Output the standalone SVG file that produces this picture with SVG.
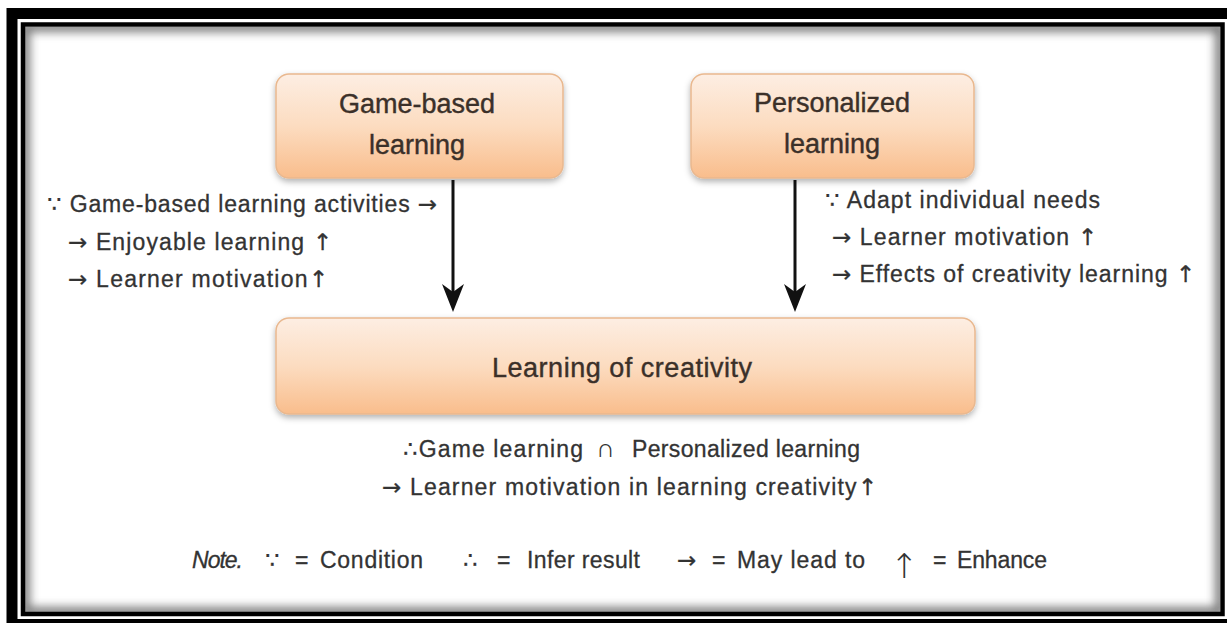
<svg xmlns="http://www.w3.org/2000/svg" width="1227" height="623" viewBox="0 0 1227 623">
<style>
.lbl{font-family:"Liberation Sans",Arial,sans-serif;font-size:27px;fill:#3b3029;stroke:#3b3029;stroke-width:0.4;text-anchor:middle}
.txt{font-family:"Liberation Sans","DejaVu Sans",Arial,sans-serif;font-size:23px;fill:#333;stroke:#333;stroke-width:0.3}
.sym{font-family:"DejaVu Sans",sans-serif}
.thin{stroke:none;font-family:"DejaVu Sans",sans-serif;font-weight:200}
.box{stroke:#e9b88f;stroke-width:1.5;filter:url(#shadow)}
.conn{stroke:#111;stroke-width:3;fill:none;marker-end:url(#ah)}
</style>
<defs>
<linearGradient id="peach" x1="0" y1="0" x2="0" y2="1">
<stop offset="0" stop-color="#fdeee3"/>
<stop offset="0.5" stop-color="#fcdcc0"/>
<stop offset="1" stop-color="#f9bd8c"/>
</linearGradient>
<filter id="shadow" x="-10%" y="-20%" width="120%" height="150%">
<feDropShadow dx="0" dy="3" stdDeviation="3" flood-color="#000" flood-opacity="0.3"/>
</filter>
<filter id="blur" x="-5%" y="-5%" width="110%" height="110%">
<feGaussianBlur stdDeviation="5"/>
</filter>
<clipPath id="inner"><rect x="25" y="27" width="1195" height="585"/></clipPath>
<marker id="ah" viewBox="0 0 28 22" refX="8" refY="11" markerWidth="28" markerHeight="22" orient="auto" markerUnits="userSpaceOnUse">
<path d="M0,0 L28,11 L0,22 L8,11 Z" fill="#111"/>
</marker>
</defs>

<g id="frame">
<rect x="0" y="0" width="1227" height="623" fill="#fff"/>
<rect x="12" y="13.5" width="1225" height="611" fill="none" stroke="#000" stroke-width="11"/>
<rect x="25" y="27" width="1195" height="585" fill="#fff"/>
<g clip-path="url(#inner)">
<rect x="25" y="27" width="1195" height="585" fill="none" stroke="#7a7a7a" stroke-width="10" filter="url(#blur)"/>
</g>
<rect x="23" y="24.5" width="1199.5" height="589.5" fill="none" stroke="#000" stroke-width="4.5"/>
</g>

<g id="connectors">
<line class="conn" x1="453" y1="180" x2="453" y2="292"/>
<line class="conn" x1="795" y1="180" x2="795" y2="292"/>
</g>

<g id="node-game">
<rect class="box" x="276" y="74" width="287" height="104" rx="13" fill="url(#peach)"/>
<text class="lbl" x="417" y="113">Game-based</text>
<text class="lbl" x="417" y="154">learning</text>
</g>

<g id="node-personalized">
<rect class="box" x="691" y="74" width="283" height="104" rx="13" fill="url(#peach)"/>
<text class="lbl" x="832" y="112">Personalized</text>
<text class="lbl" x="832" y="153">learning</text>
</g>

<g id="node-creativity">
<rect class="box" x="276" y="318" width="699" height="96" rx="13" fill="url(#peach)"/>
<text class="lbl" x="622" y="377" textLength="260">Learning of creativity</text>
</g>

<g id="text-left">
<text class="txt" x="47" y="212" textLength="390"><tspan class="sym">∵</tspan> Game-based learning activities <tspan class="sym">→</tspan></text>
<text class="txt" x="68" y="250" textLength="264"><tspan class="sym">→</tspan> Enjoyable learning <tspan class="sym">↑</tspan></text>
<text class="txt" x="68" y="287" textLength="260"><tspan class="sym">→</tspan> Learner motivation<tspan class="sym">↑</tspan></text>
</g>

<g id="text-right">
<text class="txt" x="825" y="208" textLength="275"><tspan class="sym">∵</tspan> Adapt individual needs</text>
<text class="txt" x="832" y="245" textLength="265"><tspan class="sym">→</tspan> Learner motivation <tspan class="sym">↑</tspan></text>
<text class="txt" x="832" y="282" textLength="363"><tspan class="sym">→</tspan> Effects of creativity learning <tspan class="sym">↑</tspan></text>
</g>

<g id="text-result">
<text class="txt" x="403" y="457" textLength="180"><tspan class="sym">∴</tspan>Game learning</text>
<text class="txt thin" x="596" y="457" style="font-size:26px">∩</text>
<text class="txt" x="632" y="457" textLength="228">Personalized learning</text>
<text class="txt" x="382" y="495" textLength="495"><tspan class="sym">→</tspan> Learner motivation in learning  creativity<tspan class="sym">↑</tspan></text>
</g>

<g id="note">
<text class="txt" x="192" y="568" font-style="italic" textLength="51">Note.</text>
<text class="txt sym" x="265" y="568">∵</text>
<text class="txt" x="295" y="568">=</text>
<text class="txt" x="320" y="568" textLength="103">Condition</text>
<text class="txt sym" x="463" y="568">∴</text>
<text class="txt" x="497" y="568">=</text>
<text class="txt" x="527" y="568" textLength="113">Infer result</text>
<text class="txt sym" x="677" y="568">→</text>
<text class="txt" x="712" y="568">=</text>
<text class="txt" x="737" y="568" textLength="128">May lead to</text>
<text class="txt thin" x="890" y="578" style="font-size:34px">↑</text>
<text class="txt" x="933" y="568">=</text>
<text class="txt" x="957" y="568" textLength="90">Enhance</text>
</g>
</svg>
